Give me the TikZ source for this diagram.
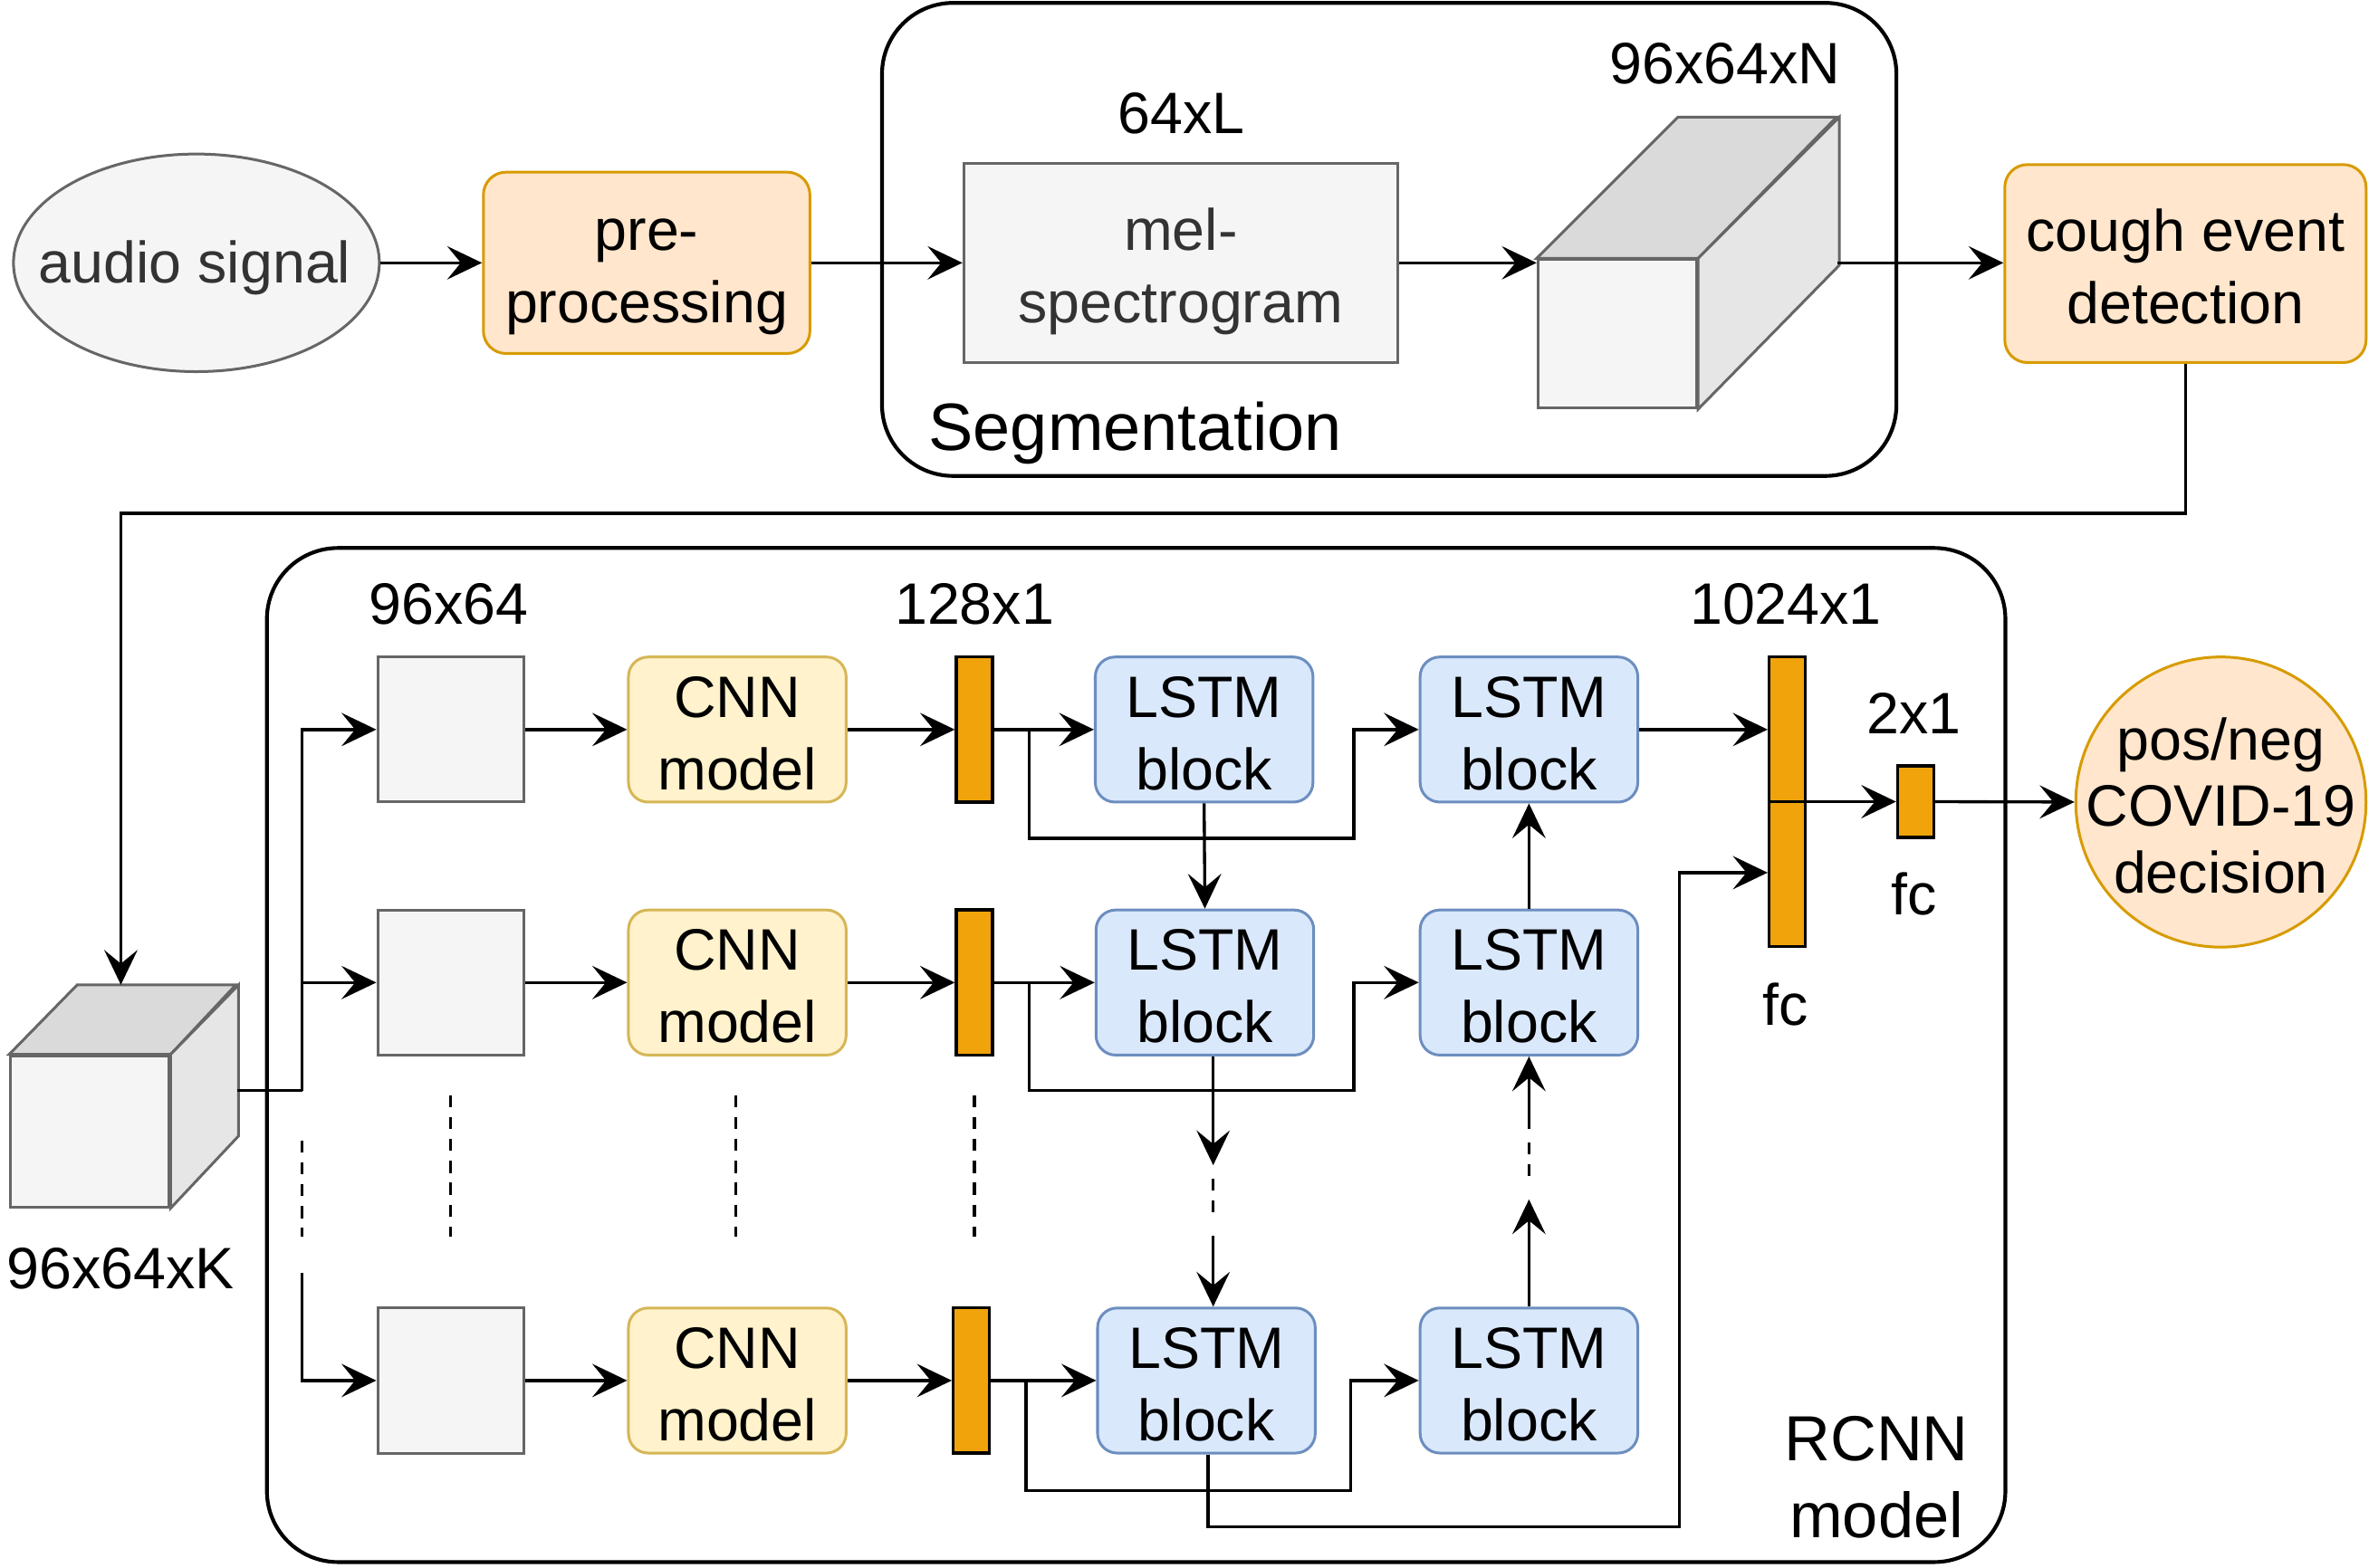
\documentclass[tikz,border=0pt]{standalone}
\usepackage{fontspec}
\setmainfont{Liberation Sans}
\usetikzlibrary{arrows.meta,shapes.geometric,calc}
\definecolor{grfill}{HTML}{F5F5F5}
\definecolor{grstroke}{HTML}{666666}
\definecolor{grtext}{HTML}{333333}
\definecolor{orfill}{HTML}{FFE6CC}
\definecolor{orstroke}{HTML}{D79B00}
\definecolor{yefill}{HTML}{FFF2CC}
\definecolor{yestroke}{HTML}{D6B656}
\definecolor{blfill}{HTML}{DAE8FC}
\definecolor{blstroke}{HTML}{6C8EBF}
\definecolor{barfill}{HTML}{F0A30A}
\definecolor{cubetop}{HTML}{DADADA}
\definecolor{cuberight}{HTML}{E6E6E6}
\newcommand\myfont{\fontsize{11}{13.7}\selectfont}
\newcommand\mlines[2][4.5pt]{\raisebox{-#1}[0pt][0pt]{\begin{tabular}{@{}c@{}}#2\end{tabular}}}
\begin{document}
\begin{tikzpicture}[x=0.01cm,y=-0.01cm,
  every node/.style={inner sep=0pt, font=\myfont},
  shp/.style={draw, line width=0.018cm},
  orangebox/.style={shp, fill=orfill, draw=orstroke, rounded corners=0.15cm},
  greybox/.style={shp, fill=grfill, draw=grstroke, text=grtext},
  cnnbox/.style={shp, fill=yefill, draw=yestroke, rounded corners=0.13cm, minimum width=1.44cm, minimum height=0.96cm},
  lstmbox/.style={shp, fill=blfill, draw=blstroke, rounded corners=0.13cm, minimum width=1.44cm, minimum height=0.96cm},
  sqbox/.style={greybox, minimum width=0.97cm, minimum height=0.96cm},
  barbox/.style={draw=black, fill=barfill, line width=0.02cm, minimum width=0.24cm},
  container/.style={draw=black, line width=0.025cm, rounded corners=0.47cm},
  face/.style={draw=grstroke, line width=0.018cm},
  ln/.style={line width=0.02cm},
  arr/.style={ln, -{Stealth[length=0.23cm,width=0.22cm,inset=0.09cm]}},
  dsh/.style={ln, dash pattern=on 0.08cm off 0.065cm},
  lbl/.style={font=\myfont}]
\useasboundingbox (0,0) rectangle (1568,1038);

% ---- containers ----
\node[container, minimum width=6.71cm, minimum height=3.13cm] (segc) at (919.5,158.5) {};
\node[container, minimum width=11.50cm, minimum height=6.71cm] (rcnnc) at (752,698.5) {};
\node[lbl, anchor=west, font=\fontsize{12.6}{15}\selectfont] (seglbl) at (614,287) {Segmentation};
\node[lbl, align=center, font=\fontsize{12}{14.6}\selectfont] (rcnnlbl) at (1242,978) {RCNN\\model};

% ---- top row ----
\node[ellipse, shp, fill=grfill, draw=grstroke, minimum width=2.42cm, minimum height=1.44cm] (audio) at (130,174) {};
\node[lbl, text=grtext] (audiotxt) at (129,177) {audio signal};
\node[orangebox, minimum width=2.16cm, minimum height=1.20cm] (pre) at (428,174) {\mlines{pre-\\processing}};
\node[greybox, minimum width=2.87cm, minimum height=1.32cm] (mel) at (781.5,174) {\mlines{mel-\\spectrogram}};
\node[lbl] (l64L) at (782,75) {64xL};
% cube N
\node[face, fill=grfill, minimum width=1.05cm, minimum height=0.98cm] (cubeN) at (1070.5,221) {};
\filldraw[face, fill=cubetop] (cubeN.north west) -- ++(93.5,-93.5) -- ++(105,0) -- (cubeN.north east) -- cycle;
\filldraw[face, fill=cuberight] (cubeN.north east) -- ++(93.5,-93.5) -- ++(0,98) -- (cubeN.south east) -- cycle;
\coordinate (cubeNr) at (1216,174);
\node[lbl] (l96N) at (1142,42) {96x64xN};
\node[orangebox, minimum width=2.39cm, minimum height=1.31cm] (cough) at (1446.5,174.5) {\mlines{cough event\\detection}};

\draw[arr] (audio.east) -- (pre.west);
\draw[arr] (pre.east) -- (mel.west);
\draw[arr] (mel.east) -- (mel.east -| cubeN.west);
\draw[arr] (cubeNr) -- (cough.west |- cubeNr);

% ---- cube K ----
\node[face, fill=grfill, minimum width=1.05cm, minimum height=1.00cm] (cubeK) at (59.5,749) {};
\filldraw[face, fill=cubetop] (cubeK.north west) -- ++(45,-46) -- ++(105,0) -- (cubeK.north east) -- cycle;
\filldraw[face, fill=cuberight] (cubeK.north east) -- ++(45,-46) -- ++(0,100) -- (cubeK.south east) -- cycle;
\coordinate (cubeKtop) at (80,652);
\coordinate (cubeKr) at (157,722);
\node[lbl] (l96K) at (80,840) {96x64xK};
\draw[arr] (cough.south) -- ++(0,99) -| (cubeKtop);

% ---- RCNN rows ----
\foreach \r/\y/\bx/\la/\lb in {1/483/645/797/1012, 2/650.5/645/797.5/1012, 3/914/643/798.5/1012} {
  \node[sqbox] (sq\r) at (298.5,\y) {};
  \node[cnnbox] (cnn\r) at (488,\y) {\mlines{CNN\\model}};
  \node[barbox, minimum height=0.96cm] (bar\r) at (\bx,\y) {};
  \node[lstmbox] (lstma\r) at (\la,\y) {\mlines{LSTM\\block}};
  \node[lstmbox] (lstmb\r) at (\lb,\y) {\mlines{LSTM\\block}};
}
\node[lbl] (l9664) at (297,400) {96x64};
\node[lbl] (l128) at (645,400) {128x1};
\node[barbox, minimum height=1.915cm] (bar1024) at (1183,530.75) {};
\node[lbl] (l1024) at (1182,400) {1024x1};
\node[lbl] (lfc1) at (1182,665) {fc};
\node[barbox, minimum height=0.475cm] (fc2) at (1268,530.75) {};
\node[lbl] (l2x1) at (1267,472) {2x1};
\node[lbl] (lfc2) at (1267,592) {fc};
\node[circle, shp, fill=orfill, draw=orstroke, minimum size=1.92cm] (dec) at (1470,531) {};
\node[lbl, font=\fontsize{11}{12.5}\selectfont] (dectxt) at (1470,531) {\mlines[4.8pt]{pos/neg\\COVID-19\\decision}};

% input fan-out
\coordinate (split) at (200,722);
\coordinate (split3) at (200,843);
\draw[ln] (cubeKr) -- (split);
\draw[arr] (split) |- (sq1.west);
\draw[arr] (split) |- (sq2.west);
\draw[dsh] (200,755) -- (200,819);
\draw[arr] (split3) |- (sq3.west);

% dotted gaps
\draw[dsh] (298,725) -- (298,819);
\draw[dsh] (487,725) -- (487,819);
\draw[dsh] (645,725) -- (645,819);

\foreach \r/\d in {1/72, 2/71.5, 3/73} {
  \draw[arr] (sq\r.east) -- (cnn\r.west);
  \draw[arr] (cnn\r.east) -- (bar\r.west);
  \draw[arr] (bar\r.east) -- (lstma\r.west);
  \draw[arr] (bar\r.east) ++(23,0) -- ++(0,\d) -- ++(215,0) |- (lstmb\r.west);
}

% vertical LSTM links
\draw[arr] (lstma1.south) -- (lstma2.north);
\draw[arr] (lstma2.south) ++(5.5,0) -- ++(0,72);
\draw[dsh] (lstma2.south) ++(5.5,81) -- ++(0,22);
\draw[arr] (lstma3.north) ++(4.5,-47) -- ++(0,47);
\draw[arr] (lstmb3.north) -- ++(0,-71);
\draw[dsh] (lstmb2.south) ++(0,57) -- ++(0,22);
\draw[arr] (lstmb2.south) ++(0,48) -- ++(0,-48);
\draw[arr] (lstmb2.north) -- (lstmb1.south);

% to fc layers
\draw[arr] (lstmb1.east) -- (lstmb1.east -| bar1024.west);
\draw[arr] (lstma3.south) ++(1,0) -- ++(0,48) -- ++(312,0) |- ($(bar1024.west)+(0,47)$);
\draw[arr] (bar1024.west) -- (fc2.west);
\draw[arr] (fc2.east) -- (dec.west);
\end{tikzpicture}
\end{document}
